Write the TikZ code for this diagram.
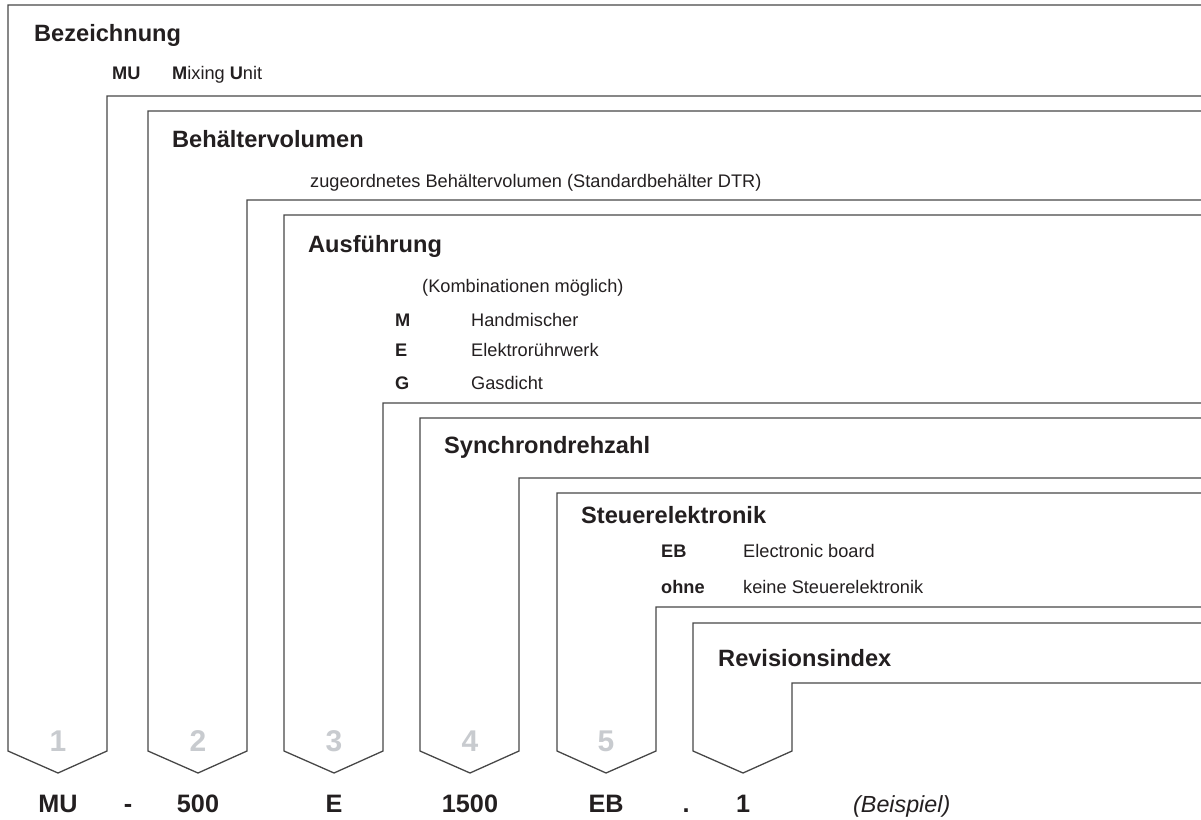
\documentclass[tikz,border=0pt]{standalone}
\usepackage{fontspec}
\setmainfont{Liberation Sans}
\definecolor{digitgray}{RGB}{200,203,207}
\definecolor{ink}{RGB}{35,31,32}
\tikzset{
  frame/.style={draw=black!72, line width=1.3pt, line join=miter},
  head/.style={anchor=base west, inner sep=0pt, text=ink, font=\fontsize{23.6}{28}\selectfont\bfseries},
  txt/.style={anchor=base west, inner sep=0pt, text=ink, font=\fontsize{18.2}{22}\selectfont},
  key/.style={txt, font=\fontsize{18.2}{22}\selectfont\bfseries},
  digit/.style={anchor=base, inner sep=0pt, text=digitgray, font=\fontsize{30}{36}\selectfont\bfseries},
  code/.style={anchor=base, inner sep=0pt, text=ink, font=\fontsize{25.2}{30}\selectfont\bfseries}
}
\begin{document}
\begin{tikzpicture}[x=1pt, y=-1pt]
\useasboundingbox (0,0) rectangle (1201,819);

% Rahmen (von aussen nach innen)
\draw[frame] (1201,96) -| (107,751) -- (58,773) -- (8,751) |- (1201,5);
\draw[frame] (1201,200) -| (247,751) -- (198,773) -- (148,751) |- (1201,111);
\draw[frame] (1201,403) -| (383,751) -- (334,773) -- (284,751) |- (1201,215);
\draw[frame] (1201,478) -| (519,751) -- (470,773) -- (420,751) |- (1201,418);
\draw[frame] (1201,607) -| (656,751) -- (606,773) -- (557,751) |- (1201,493);
\draw[frame] (1201,683) -| (792,751) -- (743,773) -- (693,751) |- (1201,623);

% 1 Bezeichnung
\node[head] (bez) at (34,41) {Bezeichnung};
\node[key] (mukey) at (112,79) {MU};
\node[txt] (mutxt) at (172,79) {\textbf{M}ixing \textbf{U}nit};

% 2 Behaeltervolumen
\node[head] (beh) at (172,147) {Behältervolumen};
\node[txt] (behtxt) at (310,187) {zugeordnetes Behältervolumen (Standardbehälter DTR)};

% 3 Ausfuehrung
\node[head] (ausf) at (308,252) {Ausführung};
\node[txt] (ausfnote) at (422,292) {(Kombinationen möglich)};
\node[key] (mkey) at (395,326) {M};
\node[txt] (mtxt) at (471,326) {Handmischer};
\node[key] (ekey) at (395,356) {E};
\node[txt] (etxt) at (471,356) {Elektrorührwerk};
\node[key] (gkey) at (395,389) {G};
\node[txt] (gtxt) at (471,389) {Gasdicht};

% 4 Synchrondrehzahl
\node[head] (sync) at (444,453) {Synchrondrehzahl};

% 5 Steuerelektronik
\node[head] (steu) at (581,523) {Steuerelektronik};
\node[key] (ebkey) at (661,557) {EB};
\node[txt] (ebtxt) at (743,557) {Electronic board};
\node[key] (ohnekey) at (661,593) {ohne};
\node[txt] (ohnetxt) at (743,593) {keine Steuerelektronik};

% 6 Revisionsindex
\node[head] (rev) at (718,666) {Revisionsindex};

% Nummern
\node[digit] (n1) at (58,751) {1};
\node[digit] (n2) at (198,751) {2};
\node[digit] (n3) at (334,751) {3};
\node[digit] (n4) at (470,751) {4};
\node[digit] (n5) at (606,751) {5};

% Beispiel
\node[code] (c1) at (58,812) {MU};
\node[code] (sep1) at (128,812) {-};
\node[code] (c2) at (198,812) {500};
\node[code] (c3) at (334,812) {E};
\node[code] (c4) at (470,812) {1500};
\node[code] (c5) at (606,812) {EB};
\node[code] (sep2) at (686,812) {.};
\node[code] (c6) at (743,812) {1};
\node[anchor=base west, inner sep=0pt, text=ink, font=\fontsize{23.3}{28}\selectfont\itshape] (bsp) at (853,812) {(Beispiel)};
\end{tikzpicture}
\end{document}
